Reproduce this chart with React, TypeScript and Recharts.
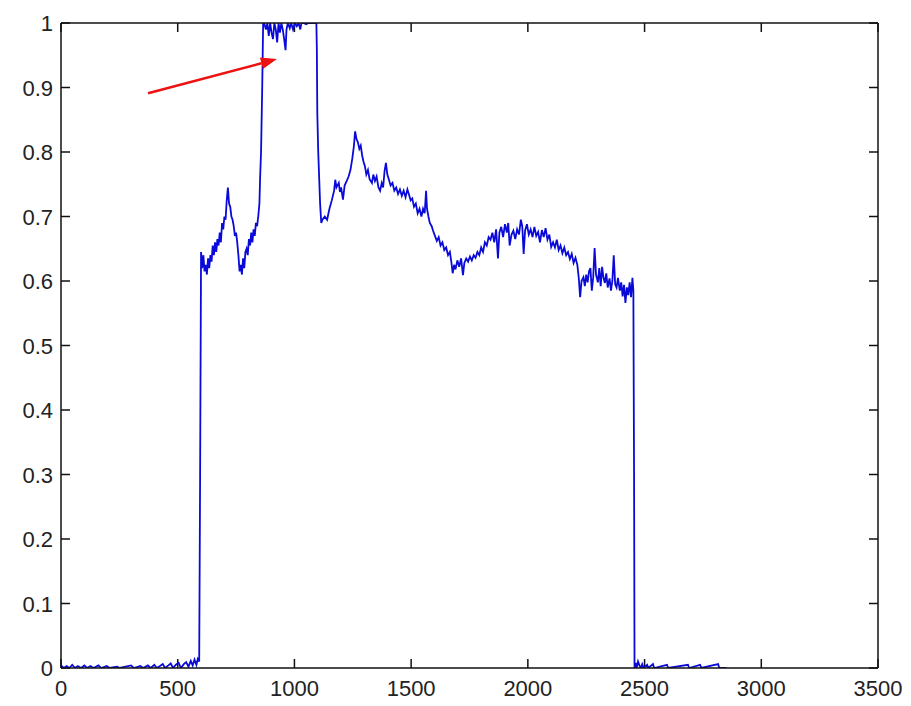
import React from "react";
import {
  LineChart,
  Line,
  XAxis,
  YAxis,
  ReferenceLine,
} from "recharts";

// samples as [x, y]
const leadBaseline: [number, number][] = [
  [0, 0.004], [12, 0], [24, 0.003], [36, 0], [48, 0.005], [60, 0], [72, 0.003], [86, 0],
  [100, 0.004], [112, 0], [126, 0.003], [140, 0], [160, 0.004], [172, 0], [196, 0.003], [208, 0],
  [240, 0.002], [252, 0], [300, 0.004], [312, 0], [340, 0.003], [352, 0], [372, 0.004], [384, 0],
  [400, 0.005], [410, 0], [424, 0.003], [436, 0.006], [446, 0], [460, 0.004], [470, 0.007],
  [480, 0], [492, 0.005], [504, 0.008], [514, 0], [526, 0.006], [536, 0.009], [546, 0.002],
  [556, 0.011], [564, 0.004], [572, 0.013], [580, 0.005], [586, 0.014], [592, 0.01],
];

const riseSegment: [number, number][] = [
  [596, 0.3], [600, 0.645], [605, 0.62], [610, 0.64], [615, 0.615], [620, 0.625], [625, 0.61],
  [630, 0.635], [635, 0.62], [640, 0.64], [645, 0.63], [650, 0.655], [655, 0.64], [660, 0.66],
  [665, 0.645], [670, 0.665], [675, 0.655], [680, 0.675], [685, 0.66], [690, 0.69], [695, 0.68],
  [700, 0.7], [705, 0.695], [710, 0.725], [715, 0.745], [720, 0.72], [725, 0.715], [730, 0.7],
  [735, 0.695], [740, 0.685], [745, 0.67], [750, 0.675], [755, 0.66], [760, 0.64], [765, 0.615],
  [770, 0.625], [775, 0.61], [780, 0.635], [785, 0.62], [790, 0.645], [795, 0.65], [800, 0.64],
  [805, 0.665], [810, 0.655], [815, 0.675], [820, 0.66], [825, 0.68], [830, 0.67], [835, 0.69],
  [840, 0.685], [845, 0.7], [850, 0.72], [853, 0.76], [857, 0.8], [862, 0.9], [866, 1],
];

const saturatedSegment: [number, number][] = [
  [870, 1], [878, 0.99], [884, 1], [890, 0.98], [896, 1], [902, 0.985], [908, 0.975], [914, 1],
  [920, 0.99], [926, 0.97], [932, 1], [938, 0.985], [944, 1], [950, 0.99], [956, 0.975],
  [962, 0.958], [966, 0.99], [972, 1], [980, 0.992], [986, 1], [994, 0.99], [1002, 1],
  [1010, 0.995], [1018, 1], [1025, 0.99], [1030, 1], [1040, 1], [1050, 0.998], [1060, 1],
  [1070, 1], [1080, 1], [1090, 1], [1094, 1],
];

const decaySegment: [number, number][] = [
  [1096, 0.96], [1098, 0.86], [1102, 0.8], [1106, 0.76], [1110, 0.72], [1115, 0.69],
  [1120, 0.695], [1130, 0.7], [1140, 0.695], [1150, 0.712], [1160, 0.725], [1170, 0.74],
  [1175, 0.757], [1180, 0.745], [1190, 0.752], [1195, 0.738], [1200, 0.745], [1208, 0.726],
  [1215, 0.748], [1225, 0.756], [1232, 0.762], [1240, 0.772], [1248, 0.79], [1255, 0.81],
  [1260, 0.832], [1266, 0.82], [1272, 0.815], [1278, 0.805], [1284, 0.81], [1290, 0.795],
  [1296, 0.785], [1302, 0.778], [1308, 0.765], [1315, 0.772], [1322, 0.758], [1332, 0.752],
  [1338, 0.765], [1345, 0.755], [1352, 0.762], [1360, 0.745], [1367, 0.74], [1374, 0.752],
  [1380, 0.745], [1386, 0.77], [1392, 0.783], [1398, 0.765], [1404, 0.758], [1412, 0.748],
  [1420, 0.752], [1428, 0.74], [1436, 0.745], [1444, 0.735], [1452, 0.742], [1460, 0.732],
  [1468, 0.74], [1476, 0.73], [1484, 0.742], [1490, 0.735], [1498, 0.725], [1505, 0.728],
  [1512, 0.715], [1520, 0.72], [1528, 0.705], [1536, 0.712], [1544, 0.7], [1551, 0.712],
  [1558, 0.705], [1564, 0.74], [1568, 0.712], [1574, 0.7], [1580, 0.69], [1588, 0.685],
  [1594, 0.678], [1602, 0.67], [1610, 0.662], [1618, 0.668], [1626, 0.655], [1634, 0.66],
  [1642, 0.648], [1650, 0.652], [1658, 0.64], [1666, 0.645], [1672, 0.63], [1678, 0.612],
  [1684, 0.625], [1690, 0.618], [1698, 0.632], [1706, 0.622], [1714, 0.635], [1722, 0.609],
  [1728, 0.628], [1736, 0.635], [1744, 0.63], [1752, 0.638], [1760, 0.632], [1768, 0.64],
  [1776, 0.636], [1784, 0.645], [1792, 0.64], [1800, 0.652], [1808, 0.645], [1816, 0.66],
  [1824, 0.655], [1832, 0.668], [1840, 0.664], [1848, 0.675], [1856, 0.66], [1864, 0.68],
  [1872, 0.635], [1878, 0.675], [1886, 0.684], [1894, 0.668], [1902, 0.688], [1910, 0.675],
  [1916, 0.69], [1922, 0.655], [1930, 0.672], [1938, 0.678], [1946, 0.665], [1954, 0.68],
  [1962, 0.672], [1970, 0.695], [1976, 0.685], [1982, 0.642], [1988, 0.678], [1996, 0.688],
  [2004, 0.672], [2012, 0.68], [2020, 0.668], [2028, 0.684], [2036, 0.67], [2044, 0.676],
  [2052, 0.66], [2060, 0.679], [2068, 0.668], [2076, 0.682], [2084, 0.664], [2092, 0.672],
  [2100, 0.653], [2108, 0.66], [2116, 0.652], [2124, 0.664], [2132, 0.648], [2140, 0.655],
  [2148, 0.643], [2156, 0.652], [2164, 0.64], [2172, 0.645], [2180, 0.634], [2188, 0.642],
  [2196, 0.628], [2204, 0.636], [2212, 0.625], [2218, 0.605], [2224, 0.575], [2230, 0.6],
  [2238, 0.606], [2244, 0.592], [2250, 0.61], [2256, 0.598], [2262, 0.615], [2268, 0.62],
  [2274, 0.585], [2280, 0.606], [2286, 0.651], [2292, 0.61], [2300, 0.598], [2306, 0.62],
  [2312, 0.592], [2318, 0.622], [2324, 0.605], [2330, 0.597], [2336, 0.612], [2342, 0.59],
  [2350, 0.604], [2356, 0.585], [2362, 0.6], [2368, 0.64], [2374, 0.595], [2380, 0.59],
  [2386, 0.605], [2394, 0.585], [2400, 0.598], [2406, 0.576], [2412, 0.594], [2418, 0.566],
  [2424, 0.59], [2430, 0.578], [2436, 0.598], [2442, 0.575], [2448, 0.605], [2452, 0.585],
  [2455, 0.3],
];

const tailBaseline: [number, number][] = [
  [2457, 0], [2462, 0.008], [2466, 0], [2472, 0.01], [2478, 0.004], [2484, 0], [2490, 0.006],
  [2496, 0], [2511, 0.005], [2516, 0], [2536, 0.006], [2541, 0], [2596, 0.005], [2601, 0],
  [2686, 0.005], [2691, 0], [2738, 0.005], [2743, 0], [2815, 0.006], [2820, 0], [2850, 0],
];

const xTicks = [0, 500, 1000, 1500, 2000, 2500, 3000, 3500];
const yTicks = [0, 0.1, 0.2, 0.3, 0.4, 0.5, 0.6, 0.7, 0.8, 0.9, 1];

// annotation arrow, in data units
const arrowFrom = { x: 373, y: 0.891 };
const arrowTo = { x: 925, y: 0.944 };

const data = [
  ...leadBaseline,
  ...riseSegment,
  ...saturatedSegment,
  ...decaySegment,
  ...tailBaseline,
].map(([x, y]) => ({ x, y }));

const FONT = "'Liberation Sans', Arial, sans-serif";
const INK = "#111";
const TICK_LEN = 9;

const BottomLabel = (props: any) => {
  const { x, y, payload } = props;
  return (
    <text x={x} y={y + 28} textAnchor="middle" fontSize={22} fontFamily={FONT} fill="#222">
      {payload.value}
    </text>
  );
};

const LeftLabel = (props: any) => {
  const { x, y, payload } = props;
  return (
    <text x={x - 8} y={y + 8} textAnchor="end" fontSize={22} fontFamily={FONT} fill="#222">
      {payload.value}
    </text>
  );
};

// inward tick marks at both ends of a full-height / full-width reference line
const VerticalTicks = (props: any) => {
  const { x1, y1, x2, y2 } = props;
  const top = Math.min(y1, y2);
  const bottom = Math.max(y1, y2);
  return (
    <g>
      <line x1={x1} y1={top} x2={x2} y2={top + TICK_LEN} stroke={INK} strokeWidth={1.5} />
      <line x1={x1} y1={bottom} x2={x2} y2={bottom - TICK_LEN} stroke={INK} strokeWidth={1.5} />
    </g>
  );
};

const HorizontalTicks = (props: any) => {
  const { x1, y1, x2, y2 } = props;
  const left = Math.min(x1, x2);
  const right = Math.max(x1, x2);
  return (
    <g>
      <line x1={left} y1={y1} x2={left + TICK_LEN} y2={y2} stroke={INK} strokeWidth={1.5} />
      <line x1={right} y1={y1} x2={right - TICK_LEN} y2={y2} stroke={INK} strokeWidth={1.5} />
    </g>
  );
};

const Arrow = (props: any) => {
  const { x1, y1, x2, y2 } = props;
  const ang = Math.atan2(y2 - y1, x2 - x1);
  const len = 16;
  const half = 6;
  const bx = x2 - len * Math.cos(ang);
  const by = y2 - len * Math.sin(ang);
  const px = -Math.sin(ang) * half;
  const py = Math.cos(ang) * half;
  return (
    <g>
      <line x1={x1} y1={y1} x2={bx} y2={by} stroke="#ee1111" strokeWidth={2.5} />
      <polygon
        points={`${x2},${y2} ${bx + px},${by + py} ${bx - px},${by - py}`}
        fill="#ee1111"
      />
    </g>
  );
};

const axisLineStyle = { stroke: INK, strokeWidth: 1.5 };

export default function App() {
  return (
    <LineChart
      width={895}
      height={698}
      data={data}
      margin={{ top: 14, right: 24, bottom: 0, left: 0 }}
    >
      <XAxis
        dataKey="x"
        type="number"
        domain={[0, 3500]}
        ticks={xTicks}
        allowDataOverflow
        height={38}
        tickSize={0}
        tickMargin={0}
        tickLine={false}
        axisLine={axisLineStyle}
        tick={<BottomLabel />}
        interval={0}
      />
      <XAxis
        xAxisId="top"
        orientation="top"
        type="number"
        domain={[0, 3500]}
        ticks={xTicks}
        height={1}
        tickLine={false}
        axisLine={axisLineStyle}
        tick={false}
      />
      <YAxis
        type="number"
        domain={[0, 1]}
        ticks={yTicks}
        allowDataOverflow
        width={53}
        tickSize={0}
        tickMargin={0}
        tickLine={false}
        axisLine={axisLineStyle}
        tick={<LeftLabel />}
        interval={0}
      />
      <YAxis
        yAxisId="right"
        orientation="right"
        type="number"
        domain={[0, 1]}
        ticks={yTicks}
        width={1}
        tickLine={false}
        axisLine={axisLineStyle}
        tick={false}
      />
      {xTicks.map((t) => (
        <ReferenceLine key={`xt-${t}`} x={t} shape={<VerticalTicks />} />
      ))}
      {yTicks.map((t) => (
        <ReferenceLine key={`yt-${t}`} y={t} shape={<HorizontalTicks />} />
      ))}
      <Line
        type="linear"
        dataKey="y"
        stroke="#0a0ad8"
        strokeWidth={1.8}
        dot={false}
        isAnimationActive={false}
      />
      <ReferenceLine
        segment={[arrowFrom, arrowTo]}
        stroke="#ee1111"
        shape={<Arrow />}
      />
    </LineChart>
  );
}
